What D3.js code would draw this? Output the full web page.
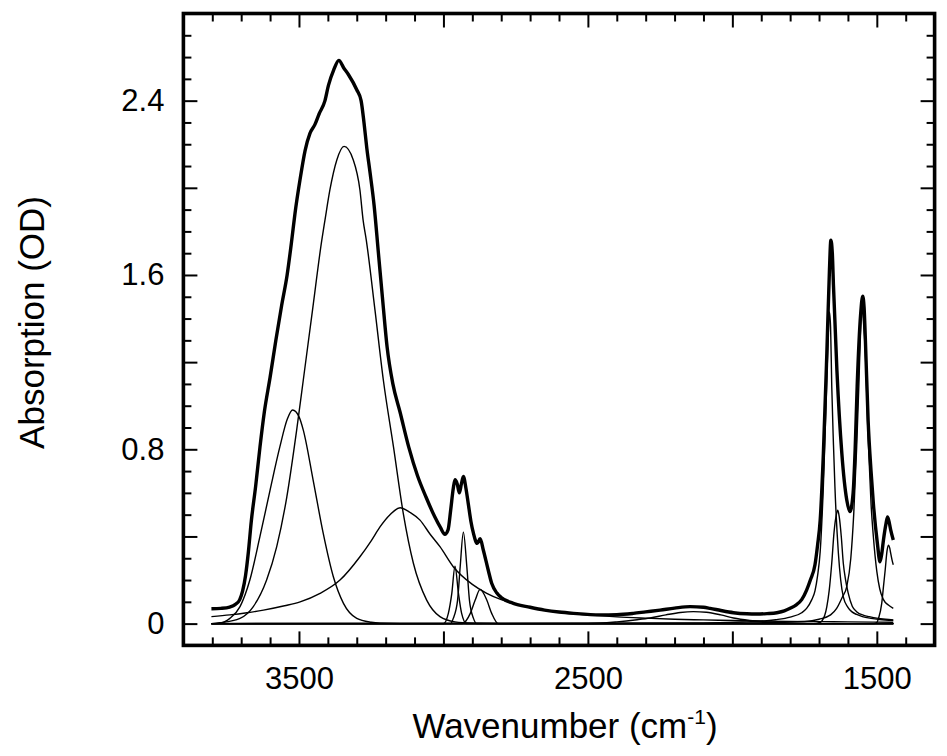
<!DOCTYPE html>
<html>
<head>
<meta charset="utf-8">
<script src="https://cdn.jsdelivr.net/npm/d3@7"></script>
<style>
  html, body { margin: 0; padding: 0; background: #fff; }
  svg { display: block; }
  text { font-family: "Liberation Sans", Arial, Helvetica, sans-serif; fill: #000; }
</style>
</head>
<body>
<svg id="chart" width="947" height="756"></svg>
<script>
// ---------------- data ----------------
const xTickMajor = [3500, 3000, 2500, 2000, 1500];
const xTickMinor = [3800, 3700, 3600, 3400, 3300, 3200, 3100, 2900, 2800, 2700, 2600, 2400, 2300, 2200, 2100, 1900, 1800, 1700, 1600, 1400];
const xTickLabels = [3500, 2500, 1500];
const yTickMajor = [0, 0.4, 0.8, 1.2, 1.6, 2.0, 2.4];
const yTickMinor = [0.1, 0.2, 0.3, 0.5, 0.6, 0.7, 0.9, 1.0, 1.1, 1.3, 1.4, 1.5, 1.7, 1.8, 1.9, 2.1, 2.2, 2.3, 2.5, 2.6, 2.7];
const yTickLabels = [0, 0.8, 1.6, 2.4];

// measured total absorption (thick line)
const totalWn = [3803, 3770, 3740, 3720, 3705, 3695, 3685, 3675, 3665, 3650, 3635, 3620, 3600, 3580, 3560, 3541, 3525, 3514, 3496, 3479, 3462, 3445, 3430, 3410, 3398, 3380, 3362, 3345, 3329, 3300, 3285, 3275, 3265, 3254, 3240, 3225, 3210, 3195, 3175, 3150, 3120, 3090, 3060, 3030, 3010, 2995, 2984, 2975, 2966, 2960, 2952, 2945, 2938, 2931, 2922, 2914, 2905, 2896, 2883, 2873, 2862, 2845, 2833, 2815, 2800, 2758, 2700, 2650, 2600, 2550, 2458, 2400, 2343, 2300, 2250, 2200, 2146, 2100, 2077, 2040, 1996, 1950, 1915, 1880, 1846, 1820, 1800, 1780, 1760, 1743, 1730, 1714, 1705, 1696, 1685, 1673, 1664, 1659, 1654, 1650, 1638, 1621, 1604, 1593, 1582, 1575, 1568, 1556, 1549, 1544, 1540, 1530, 1520, 1512, 1498, 1489, 1483, 1477, 1468, 1463, 1458, 1452, 1443];
const totalAbs = [0.068, 0.070, 0.076, 0.088, 0.11, 0.15, 0.22, 0.33, 0.47, 0.63, 0.81, 0.97, 1.13, 1.30, 1.46, 1.60, 1.76, 1.88, 2.04, 2.17, 2.25, 2.29, 2.34, 2.40, 2.47, 2.54, 2.585, 2.55, 2.52, 2.45, 2.40, 2.30, 2.18, 2.07, 1.92, 1.70, 1.48, 1.27, 1.10, 0.97, 0.81, 0.68, 0.58, 0.49, 0.44, 0.41, 0.43, 0.52, 0.62, 0.66, 0.64, 0.60, 0.64, 0.675, 0.62, 0.55, 0.47, 0.414, 0.368, 0.39, 0.338, 0.246, 0.185, 0.14, 0.12, 0.093, 0.075, 0.062, 0.053, 0.047, 0.040, 0.041, 0.047, 0.054, 0.062, 0.071, 0.078, 0.075, 0.070, 0.060, 0.050, 0.045, 0.044, 0.046, 0.050, 0.058, 0.070, 0.085, 0.11, 0.154, 0.20, 0.27, 0.36, 0.475, 0.78, 1.24, 1.62, 1.76, 1.70, 1.55, 1.16, 0.78, 0.567, 0.514, 0.60, 0.80, 1.09, 1.42, 1.503, 1.45, 1.32, 0.93, 0.70, 0.552, 0.368, 0.284, 0.32, 0.384, 0.46, 0.49, 0.47, 0.43, 0.384];

// fitted component bands (thin lines)
const band3522Wn = [3803, 3770, 3739, 3704, 3670, 3635, 3600, 3566, 3540, 3522, 3500, 3485, 3451, 3416, 3381, 3346, 3300, 3250, 3219, 3150, 1443];
const band3522Abs = [0.0, 0.003, 0.024, 0.078, 0.20, 0.40, 0.613, 0.812, 0.94, 0.98, 0.95, 0.888, 0.659, 0.414, 0.215, 0.093, 0.024, 0.006, 0.002, 0.0, 0.0];

const band3344Wn = [3803, 3773, 3704, 3658, 3612, 3577, 3542, 3508, 3485, 3453, 3421, 3410, 3393, 3369, 3344, 3312, 3289, 3278, 3267, 3237, 3208, 3173, 3139, 3104, 3058, 3012, 2960, 2900, 2800, 1443];
const band3344Abs = [0.0, 0.004, 0.024, 0.078, 0.20, 0.353, 0.582, 0.888, 1.118, 1.44, 1.76, 1.852, 1.99, 2.128, 2.19, 2.128, 1.99, 1.852, 1.76, 1.44, 1.118, 0.812, 0.506, 0.277, 0.108, 0.032, 0.008, 0.002, 0.0, 0.0];

const band3150Wn = [3803, 3739, 3680, 3623, 3550, 3496, 3427, 3358, 3289, 3250, 3219, 3185, 3150, 3115, 3081, 3046, 3012, 2966, 2900, 2850, 2800, 2758, 2700, 2650, 2600, 2500, 2400, 2300, 2200, 2100, 2000, 1900, 1800, 1700, 1600, 1443];
const band3150Abs = [0.032, 0.040, 0.050, 0.062, 0.082, 0.10, 0.139, 0.20, 0.307, 0.38, 0.445, 0.50, 0.532, 0.51, 0.475, 0.41, 0.353, 0.261, 0.18, 0.139, 0.11, 0.093, 0.075, 0.062, 0.052, 0.040, 0.031, 0.025, 0.020, 0.017, 0.014, 0.012, 0.010, 0.009, 0.008, 0.006];

const band2960Wn = [3803, 3000, 2983, 2971, 2960, 2948, 2937, 2920, 1443];
const band2960Abs = [0.0, 0.0, 0.047, 0.139, 0.264, 0.139, 0.047, 0.0, 0.0];

const band2931Wn = [3803, 2975, 2966, 2951, 2942, 2931, 2919, 2910, 2896, 2885, 1443];
const band2931Abs = [0.0, 0.0, 0.024, 0.108, 0.261, 0.42, 0.261, 0.108, 0.024, 0.0, 0.0];

const band2873Wn = [3803, 2935, 2907, 2890, 2873, 2850, 2833, 2810, 1443];
const band2873Abs = [0.0, 0.0, 0.047, 0.108, 0.157, 0.108, 0.047, 0.0, 0.0];

const band2135Wn = [3803, 2500, 2400, 2330, 2285, 2230, 2180, 2135, 2090, 2040, 1996, 1940, 1881, 1800, 1700, 1443];
const band2135Abs = [0.0, 0.0, 0.008, 0.018, 0.026, 0.040, 0.051, 0.055, 0.052, 0.040, 0.026, 0.015, 0.008, 0.002, 0.0, 0.0];

const band1664Wn = [3803, 2100, 1950, 1900, 1850, 1800, 1760, 1743, 1725, 1714, 1705, 1696, 1685, 1673, 1668, 1664, 1660, 1656, 1650, 1645, 1633, 1625, 1616, 1600, 1587, 1570, 1550, 1520, 1490, 1443];
const band1664Abs = [0.0, 0.002, 0.008, 0.011, 0.018, 0.03, 0.05, 0.07, 0.11, 0.15, 0.22, 0.33, 0.63, 1.12, 1.33, 1.43, 1.36, 1.09, 0.82, 0.628, 0.323, 0.20, 0.123, 0.075, 0.055, 0.042, 0.032, 0.024, 0.019, 0.015];

const band1635Wn = [3803, 1720, 1700, 1690, 1673, 1665, 1656, 1648, 1640, 1635, 1630, 1623, 1616, 1608, 1599, 1585, 1570, 1545, 1526, 1500, 1470, 1443];
const band1635Abs = [0.0, 0.0, 0.004, 0.012, 0.078, 0.15, 0.277, 0.42, 0.50, 0.52, 0.49, 0.40, 0.277, 0.20, 0.14, 0.08, 0.055, 0.038, 0.032, 0.025, 0.02, 0.017];

const band1551Wn = [3803, 2000, 1750, 1700, 1660, 1639, 1620, 1604, 1590, 1580, 1570, 1562, 1556, 1551, 1546, 1540, 1530, 1520, 1512, 1500, 1490, 1477, 1460, 1443];
const band1551Abs = [0.0, 0.003, 0.01, 0.02, 0.04, 0.07, 0.12, 0.17, 0.30, 0.50, 0.80, 1.10, 1.35, 1.45, 1.38, 1.25, 0.85, 0.55, 0.40, 0.24, 0.16, 0.11, 0.085, 0.07];

const band1460Wn = [3803, 1510, 1500, 1494, 1483, 1477, 1471, 1465, 1460, 1455, 1452, 1447, 1443];
const band1460Abs = [0.0, 0.0, 0.005, 0.024, 0.093, 0.17, 0.246, 0.33, 0.36, 0.345, 0.323, 0.29, 0.27];

const zeroWn = [3803, 1443];
const zeroAbs = [0, 0];

const components = [
  [band3522Wn, band3522Abs], [band3344Wn, band3344Abs], [band3150Wn, band3150Abs],
  [band2960Wn, band2960Abs], [band2931Wn, band2931Abs], [band2873Wn, band2873Abs],
  [band2135Wn, band2135Abs], [band1664Wn, band1664Abs], [band1635Wn, band1635Abs],
  [band1551Wn, band1551Abs], [band1460Wn, band1460Abs], [zeroWn, zeroAbs]
];

// ---------------- layout ----------------
const svg = d3.select("#chart");
const pL = 183.4, pR = 934.6, pT = 13.5, pB = 645.4;
const x = d3.scaleLinear().domain([3900, 1300]).range([pL, pR]);
const y = d3.scaleLinear().domain([-0.1, 2.8]).range([pB, pT]);

const zip = (wn, ab) => wn.map((w, i) => [w, ab[i]]);
const line = d3.line().x(d => x(d[0])).y(d => y(d[1])).curve(d3.curveMonotoneX);

const plot = svg.append("g");
components.forEach(([wn, ab]) => {
  plot.append("path").datum(zip(wn, ab)).attr("d", line)
    .attr("fill", "none").attr("stroke", "#000").attr("stroke-width", 1.4)
    .attr("stroke-linejoin", "round");
});
plot.append("path").datum(zip(totalWn, totalAbs)).attr("d", line)
  .attr("fill", "none").attr("stroke", "#000").attr("stroke-width", 3.4)
  .attr("stroke-linejoin", "round");

// ---------------- axes ----------------
const tickFont = 31;
function styleAxis(g) {
  g.select(".domain").remove();
  g.selectAll(".tick line").attr("stroke", "#000").attr("stroke-width", 2);
  g.selectAll(".tick text").attr("font-size", tickFont)
    .attr("font-family", '"Liberation Sans", Arial, Helvetica, sans-serif').attr("fill", "#000");
}
const fmtX = d => xTickLabels.includes(d) ? String(d) : "";
const fmtY = d => yTickLabels.includes(d) ? String(d) : "";

// bottom
svg.append("g").attr("transform", `translate(0,${pB})`)
  .call(d3.axisBottom(x).tickValues(xTickMinor).tickSize(-8).tickFormat("")).call(styleAxis);
svg.append("g").attr("transform", `translate(0,${pB})`)
  .call(d3.axisBottom(x).tickValues(xTickMajor).tickSize(-14).tickPadding(22).tickFormat(fmtX)).call(styleAxis);
// top
svg.append("g").attr("transform", `translate(0,${pT})`)
  .call(d3.axisTop(x).tickValues(xTickMinor).tickSize(-8).tickFormat("")).call(styleAxis);
svg.append("g").attr("transform", `translate(0,${pT})`)
  .call(d3.axisTop(x).tickValues(xTickMajor).tickSize(-14).tickFormat("")).call(styleAxis);
// left
svg.append("g").attr("transform", `translate(${pL},0)`)
  .call(d3.axisLeft(y).tickValues(yTickMinor).tickSize(-8).tickFormat("")).call(styleAxis);
svg.append("g").attr("transform", `translate(${pL},0)`)
  .call(d3.axisLeft(y).tickValues(yTickMajor).tickSize(-14).tickPadding(19).tickFormat(fmtY)).call(styleAxis);
// right
svg.append("g").attr("transform", `translate(${pR},0)`)
  .call(d3.axisRight(y).tickValues(yTickMinor).tickSize(-8).tickFormat("")).call(styleAxis);
svg.append("g").attr("transform", `translate(${pR},0)`)
  .call(d3.axisRight(y).tickValues(yTickMajor).tickSize(-14).tickFormat("")).call(styleAxis);

// frame
svg.append("rect").attr("x", pL).attr("y", pT)
  .attr("width", pR - pL).attr("height", pB - pT)
  .attr("fill", "none").attr("stroke", "#000").attr("stroke-width", 3.6);

// titles
const xt = svg.append("text").attr("x", (pL + pR) / 2 + 6).attr("y", 738)
  .attr("text-anchor", "middle").attr("font-size", 35);
xt.append("tspan").text("Wavenumber (cm");
xt.append("tspan").attr("font-size", 21).attr("dy", -14).text("-1");
xt.append("tspan").attr("dy", 14).text(")");

svg.append("text").attr("transform", `translate(44,${(pT + pB) / 2 - 7}) rotate(-90)`)
  .attr("text-anchor", "middle").attr("font-size", 35).text("Absorption (OD)");
</script>
</body>
</html>
